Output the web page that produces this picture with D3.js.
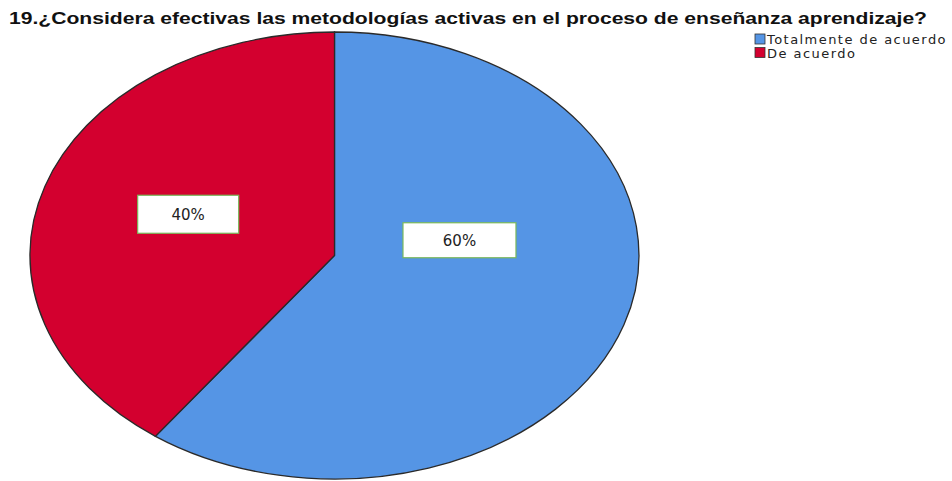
<!DOCTYPE html>
<html>
<head>
<meta charset="utf-8">
<script src="https://cdn.jsdelivr.net/npm/d3@7"></script>
<style>
  body { margin: 0; background: #fff; }
  text { font-family: "Liberation Sans", Arial, sans-serif; }
</style>
</head>
<body>
<div class="container"></div>
<script>
const w = 952;
const h = 481;

const title = '19.¿Considera efectivas las metodologías activas en el proceso de enseñanza aprendizaje?';
const categories = ['Totalmente de acuerdo', 'De acuerdo'];
const values = [60, 40];
const colors = ['#5595e5', '#d3002f'];

// ellipse geometry (pie is squashed, wider than tall)
const cx = 334.5, cy = 255.5;
const rx = 304.5, ry = 223.5;
// label anchors: [radius fraction, dx, dy] in unit-circle space, box w/h
const labelTweak = [[0.42, 0.011, -0.198, 113, 35], [0.5, -0.005, -0.03, 101, 38]];

const svg = d3.select('.container').append('svg')
    .attr('width', w)
    .attr('height', h);

svg.append('text')
    .attr('x', 9)
    .attr('y', 24)
    .attr('textLength', 918)
    .attr('lengthAdjust', 'spacingAndGlyphs')
    .style('font-size', '16px')
    .style('font-weight', 'bold')
    .attr('fill', '#111')
    .text(title);

const pie = d3.pie().sort(null)(values);
const arc = d3.arc().innerRadius(0).outerRadius(1);

const pieG = svg.append('g')
    .attr('transform', `translate(${cx},${cy})`);

pieG.selectAll('.slice')
    .data(pie)
    .enter()
    .append('path')
      .classed('slice', true)
      .attr('d', arc)
      .attr('transform', `scale(${rx},${ry})`)
      .attr('fill', (d, i) => colors[i])
      .attr('stroke', '#2a2a2a')
      .attr('stroke-width', 1.3)
      .attr('vector-effect', 'non-scaling-stroke');

const labels = pieG.selectAll('.lab')
    .data(pie)
    .enter()
    .append('g')
      .classed('lab', true)
      .attr('transform', (d, i) => {
        const t = labelTweak[i];
        const a = (d.startAngle + d.endAngle) / 2;
        const x = (Math.sin(a) * t[0] + t[1]) * rx;
        const y = (-Math.cos(a) * t[0] + t[2]) * ry;
        return `translate(${x},${y})`;
      });

labels.append('rect')
    .attr('x', (d, i) => -labelTweak[i][3] / 2)
    .attr('y', (d, i) => -labelTweak[i][4] / 2)
    .attr('width', (d, i) => labelTweak[i][3])
    .attr('height', (d, i) => labelTweak[i][4])
    .attr('fill', '#fff')
    .attr('stroke', '#79b85a')
    .attr('stroke-width', 1.2);

labels.append('text')
    .attr('text-anchor', 'middle')
    .attr('dy', '0.36em')
    .style('font-family', '"DejaVu Sans", Verdana, sans-serif')
    .style('font-size', '15px')
    .attr('fill', '#222')
    .text((d, i) => values[i] + '%');

const legend = svg.selectAll('.legend')
    .data(categories)
    .enter()
    .append('g')
      .attr('class', 'legend')
      .attr('transform', (d, i) => `translate(755, ${34 + i * 13.5})`);

legend.append('rect')
    .attr('width', 10)
    .attr('height', 10)
    .attr('fill', (d, i) => colors[i])
    .attr('stroke', '#333')
    .attr('stroke-width', 0.8);

legend.append('text')
    .attr('x', 12)
    .attr('y', 10)
    .style('font-family', '"DejaVu Sans", Verdana, sans-serif')
    .style('font-size', '13px')
    .style('letter-spacing', '1.45px')
    .attr('fill', '#222')
    .text(d => d);
</script>
</body>
</html>
